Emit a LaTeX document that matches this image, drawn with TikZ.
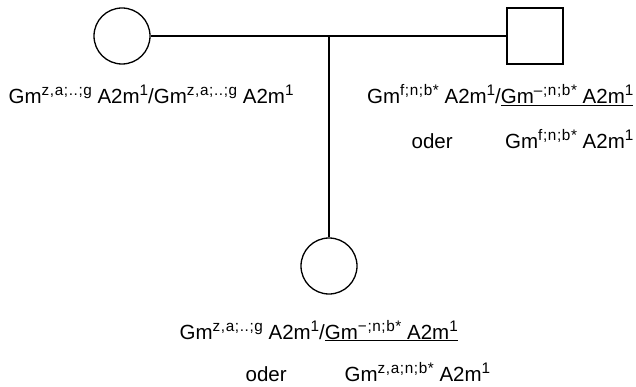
\documentclass[tikz,border=0pt]{standalone}
\usepackage{fontspec}
\setmainfont{Liberation Sans}
% raised allotype markers, set loosely as in the printed notation
\newcommand{\gsup}[1]{\raisebox{8pt}{\fontsize{15.3}{16}\selectfont\addfontfeatures{LetterSpace=4}#1}}
\begin{document}
\begin{tikzpicture}[x=1pt,y=-1pt,line width=1.3pt,
  female/.style={draw,circle,minimum size=56pt,inner sep=0pt},
  male/.style={draw,rectangle,minimum size=56pt,inner sep=0pt},
  lbl/.style={font=\fontsize{20.5}{26}\selectfont,inner sep=0pt,anchor=base west},
  lblr/.style={lbl,anchor=base east}]
\useasboundingbox (0,0) rectangle (636,387);
% family members
\node[female] (mother) at (122,36) {};
\node[male] (father) at (535,36) {};
\node[female] (child) at (329,266) {};
% mating line and line of descent
\draw (mother.east) -- (father.west);
\draw (mother -| child) -- (child.north);
% genotypes
\node[lbl] (lm) at (8,104) {Gm\gsup{z,a;..;g} A2m\gsup{1}/Gm\gsup{z,a;..;g} A2m\gsup{1}};
\node[lblr] (lf1) at (634,104) {Gm\gsup{f;n;b*} A2m\gsup{1}/\underline{Gm\gsup{–;n;b*} A2m\gsup{1}}};
\node[lbl] (of) at (411,149) {oder};
\node[lblr] (lf2) at (634,149) {Gm\gsup{f;n;b*} A2m\gsup{1}};
\node[lbl] (lc1) at (179,339) {Gm\gsup{z,a;..;g} A2m\gsup{1}/\underline{Gm\gsup{−;n;b*} A2m\gsup{1}}};
\node[lbl] (oc) at (245,381) {oder};
\node[lbl] (lc2) at (344,381) {Gm\gsup{z,a;n;b*} A2m\gsup{1}};
\end{tikzpicture}
\end{document}
